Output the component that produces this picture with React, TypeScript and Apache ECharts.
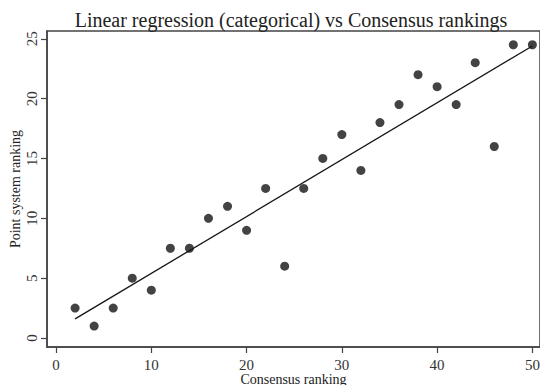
import React, { useEffect, useRef } from "react";
import * as echarts from "echarts";

const titleText = "Linear regression (categorical) vs Consensus rankings";
const xName = "Consensus ranking";
const yName = "Point system ranking";

const consensusRank = [2, 4, 6, 8, 10, 12, 14, 16, 18, 20, 22, 24, 26, 28, 30, 32, 34, 36, 38, 40, 42, 44, 46, 48, 50];
const pointRank = [2.5, 1, 2.5, 5, 4, 7.5, 7.5, 10, 11, 9, 12.5, 6, 12.5, 15, 17, 14, 18, 19.5, 22, 21, 19.5, 23, 16, 24.5, 24.5];
const xTicks = [0, 10, 20, 30, 40, 50];
const yTicks = [0, 5, 10, 15, 20, 25];

const fitX = [2, 50];
const fitY = [1.6, 24.4];

const FONT = "Liberation Serif";
const INK = "#141414";
const AXIS = "#444444";

export default function App() {
  const ref = useRef<HTMLDivElement>(null);
  useEffect(() => {
    if (!ref.current) return;
    const chart = echarts.init(ref.current, null, { renderer: "svg" });
    chart.setOption({
      animation: false,
      backgroundColor: "#ffffff",
      title: {
        text: titleText,
        left: 286,
        top: 5,
        textAlign: "center",
        textStyle: { fontFamily: FONT, fontSize: 20, fontWeight: "normal", color: "#222222" },
      },
      grid: {
        left: 47,
        top: 31,
        right: 0,
        bottom: 38,
        outerBoundsMode: "none",
        containLabel: false,
        show: true,
        borderColor: AXIS,
        borderWidth: 1.5,
        backgroundColor: "transparent",
      },
      xAxis: {
        type: "value",
        min: -0.95,
        max: 50.8,
        name: xName,
        nameLocation: "middle",
        nameGap: 25,
        nameMoveOverlap: false,
        nameTextStyle: { fontFamily: FONT, fontSize: 14, color: "#222222" },
        axisLine: { show: true, onZero: false, lineStyle: { color: AXIS, width: 1.5 } },
        axisTick: { show: true, length: 6, lineStyle: { color: AXIS, width: 1.2 }, customValues: xTicks },
        axisLabel: { fontFamily: FONT, fontSize: 15, color: "#333333", margin: 10, customValues: xTicks },
        splitLine: { show: false },
      },
      yAxis: {
        type: "value",
        min: -0.75,
        max: 25.65,
        name: yName,
        nameLocation: "middle",
        nameGap: 25,
        nameMoveOverlap: false,
        nameRotate: 90,
        nameTextStyle: { fontFamily: FONT, fontSize: 14, color: "#222222" },
        axisLine: { show: true, onZero: false, lineStyle: { color: AXIS, width: 1.5 } },
        axisTick: { show: true, length: 6, lineStyle: { color: AXIS, width: 1.2 }, customValues: yTicks },
        axisLabel: { fontFamily: FONT, fontSize: 15, color: "#333333", margin: 8, rotate: 90, customValues: yTicks },
        splitLine: { show: false },
      },
      series: [
        {
          type: "line",
          data: fitX.map((x, i) => [x, fitY[i]]),
          symbol: "none",
          lineStyle: { color: INK, width: 1.3 },
          z: 2,
        },
        {
          type: "scatter",
          data: consensusRank.map((x, i) => [x, pointRank[i]]),
          symbol: "circle",
          symbolSize: 9,
          itemStyle: { color: INK },
          z: 3,
        },
      ],
    });
    return () => chart.dispose();
  }, []);
  return <div ref={ref} style={{ position: "absolute", left: 0, top: 0, width: 540, height: 385 }} />;
}
